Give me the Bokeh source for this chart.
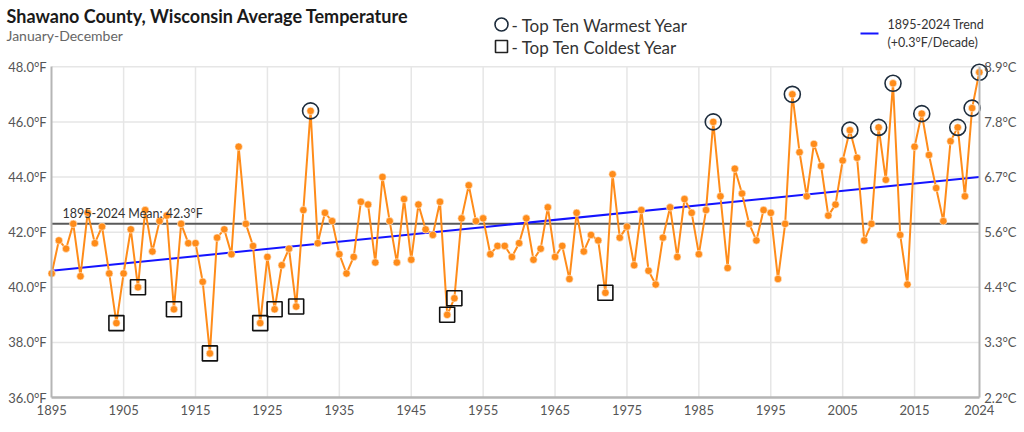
from bokeh.plotting import figure
from bokeh.models import Range1d, FixedTicker, Label, LinearAxis
from bokeh.embed import file_html
from bokeh.resources import INLINE
from bokeh.core.properties import value

# ---------------- data ----------------
years = list(range(1895, 2025))
temps = [
    40.5, 41.7, 41.4, 42.3, 40.4, 42.7, 41.6, 42.2, 40.5, 38.7,   # 1895-1904
    40.5, 42.1, 40.0, 42.8, 41.3, 42.4, 42.6, 39.2, 42.3, 41.6,   # 1905-1914
    41.6, 40.2, 37.6, 41.8, 42.1, 41.2, 45.1, 42.3, 41.5, 38.7,   # 1915-1924
    41.1, 39.2, 40.8, 41.4, 39.3, 42.8, 46.4, 41.6, 42.7, 42.4,   # 1925-1934
    41.2, 40.5, 41.1, 43.1, 43.0, 40.9, 44.0, 42.4, 40.9, 43.2,   # 1935-1944
    41.0, 43.0, 42.1, 41.9, 43.1, 39.0, 39.6, 42.5, 43.7, 42.4,   # 1945-1954
    42.5, 41.2, 41.5, 41.5, 41.1, 41.6, 42.5, 41.0, 41.4, 42.9,   # 1955-1964
    41.1, 41.5, 40.3, 42.7, 41.3, 41.9, 41.7, 39.8, 44.1, 41.8,   # 1965-1974
    42.2, 40.8, 42.8, 40.6, 40.1, 41.8, 42.9, 41.1, 43.2, 42.7,   # 1975-1984
    41.2, 42.8, 46.0, 43.3, 40.7, 44.3, 43.4, 42.3, 41.7, 42.8,   # 1985-1994
    42.7, 40.3, 42.3, 47.0, 44.9, 43.3, 45.2, 44.4, 42.6, 43.0,   # 1995-2004
    44.6, 45.7, 44.7, 41.7, 42.3, 45.8, 43.9, 47.4, 41.9, 40.1,   # 2005-2014
    45.1, 46.3, 44.8, 43.6, 42.4, 45.3, 45.8, 43.3, 46.5, 47.8,   # 2015-2024
]
warm_years = [1931, 1987, 1998, 2006, 2010, 2012, 2016, 2021, 2023, 2024]
cold_years = [1904, 1907, 1912, 1917, 1924, 1926, 1929, 1950, 1951, 1972]
mean_temp = 42.3
trend_years = [1895, 2024]
trend_vals = [40.6, 44.0]

x_ticks = [1895, 1905, 1915, 1925, 1935, 1945, 1955, 1965, 1975, 1985, 1995, 2005, 2015, 2024]
y_ticks = [36, 38, 40, 42, 44, 46, 48]
y_labels_f = ["36.0°F", "38.0°F", "40.0°F", "42.0°F", "44.0°F", "46.0°F", "48.0°F"]
y_labels_c = ["2.2°C", "3.3°C", "4.4°C", "5.6°C", "6.7°C", "7.8°C", "8.9°C"]

title_text = "Shawano County, Wisconsin Average Temperature"
subtitle_text = "January-December"
warm_label = "- Top Ten Warmest Year"
cold_label = "- Top Ten Coldest Year"
trend_label_1 = "1895-2024 Trend"
trend_label_2 = "(+0.3°F/Decade)"
mean_label = "1895-2024 Mean: 42.3°F"

# ---------------- style / layout ----------------
FONT = "Lato"
ORANGE = "#ff8c1a"
NAVY = "#1e2d3d"
BLUE = "#1414ff"
GRID = "#e6e6e6"
AXIS = "#b5b5b5"
TICK_TXT = "#555555"

W, H = 1024, 430
AX_B_PX = 397                      # where the lowest y tick sits (px from top)
AX_L_PX, AX_R_PX = 51.2, 978.8     # where the first / last year sit (px)
PX_PER_YEAR = (AX_R_PX - AX_L_PX) / (years[-1] - years[0])
X0 = years[0] - AX_L_PX / PX_PER_YEAR
X1 = years[-1] + (W - AX_R_PX) / PX_PER_YEAR
PX_PER_DEG = 27.56
Y0 = y_ticks[0] - (H - AX_B_PX) / PX_PER_DEG
Y1 = y_ticks[0] + AX_B_PX / PX_PER_DEG


def sx(px):
    """screen x (px) -> data x"""
    return X0 + px / PX_PER_YEAR


def sy(py):
    """screen y (px) -> data y"""
    return y_ticks[0] + (AX_B_PX - py) / PX_PER_DEG


temp_by_year = dict(zip(years, temps))
warm_temps = [temp_by_year[y] for y in warm_years]
cold_temps = [temp_by_year[y] for y in cold_years]

p = figure(width=W, height=H, x_range=Range1d(X0, X1), y_range=Range1d(Y0, Y1),
           output_backend="svg", toolbar_location=None,
           x_axis_location=None, y_axis_location=None, min_border=0)
p.outline_line_color = None
p.grid.visible = False

# ---------------- axes (placed inside the canvas at fixed data locations) ----------------
bottom_axis = LinearAxis(ticker=FixedTicker(ticks=x_ticks), fixed_location=y_ticks[0],
                         major_label_overrides={t: str(t) for t in x_ticks},
                         bounds=(years[0], years[-1]))
left_axis = LinearAxis(ticker=FixedTicker(ticks=y_ticks), fixed_location=years[0],
                       major_label_overrides=dict(zip(y_ticks, y_labels_f)),
                       bounds=(y_ticks[0], y_ticks[-1]))
right_axis = LinearAxis(ticker=FixedTicker(ticks=y_ticks), fixed_location=years[-1],
                        major_label_overrides=dict(zip(y_ticks, y_labels_c)),
                        bounds=(y_ticks[0], y_ticks[-1]))
p.add_layout(bottom_axis, "below")
p.add_layout(left_axis, "left")
p.add_layout(right_axis, "right")

for ax in [bottom_axis, left_axis, right_axis]:
    ax.major_label_text_font = FONT
    ax.major_label_text_font_size = "13px"
    ax.major_label_text_color = TICK_TXT
    ax.minor_tick_line_color = None
    ax.major_tick_out = 0
    ax.major_tick_in = 0
for ax in [left_axis, right_axis]:
    ax.axis_line_color = AXIS
    ax.axis_line_width = 2
    ax.major_label_standoff = 5
bottom_axis.axis_line_color = AXIS
bottom_axis.axis_line_width = 2.5
bottom_axis.major_label_standoff = 7

# ---------------- grid (limited to the chart area) ----------------
vx = x_ticks[1:-1]
p.segment(x0=vx, y0=[y_ticks[0]] * len(vx), x1=vx, y1=[y_ticks[-1]] * len(vx),
          line_color=GRID, line_width=1.5)
hy = y_ticks[1:]
p.segment(x0=[years[0]] * len(hy), y0=hy, x1=[years[-1]] * len(hy), y1=hy,
          line_color=GRID, line_width=1.5)

# ---------------- mean and trend ----------------
p.line(x=[years[0], years[-1]], y=[mean_temp, mean_temp], line_color="#5a5a5a", line_width=2)
p.add_layout(Label(x=years[0] + 1.5, y=mean_temp, y_offset=3, text=mean_label, text_font=FONT,
                   text_font_size="12.5px", text_color="#333333", text_baseline="bottom"))
p.line(trend_years, trend_vals, line_color=BLUE, line_width=2)

# ---------------- data ----------------
p.line(years, temps, line_color=ORANGE, line_width=2)
p.scatter(years, temps, size=7.5, fill_color=ORANGE, line_color="#fff3e6", line_width=0.6)
p.scatter(warm_years, warm_temps, marker="circle", size=16, fill_color=None,
          line_color=NAVY, line_width=1.6)
p.scatter(cold_years, cold_temps, marker="square", size=15, fill_color=None,
          line_color="#111111", line_width=1.6)

# ---------------- header: title, subtitle, legend ----------------
p.text(x=[sx(6)], y=[sy(15.5)], text=[title_text], text_font=value(FONT),
       text_font_style="bold", text_font_size="18px", text_color="#1a1a1a",
       text_baseline="middle")
p.text(x=[sx(6)], y=[sy(35)], text=[subtitle_text], text_font=value(FONT),
       text_font_size="14px", text_color="#666666", text_baseline="middle")

p.scatter(x=[sx(501)], y=[sy(24)], marker="circle", size=13, fill_color=None,
          line_color=NAVY, line_width=1.6)
p.scatter(x=[sx(501)], y=[sy(46)], marker="square", size=12, fill_color=None,
          line_color="#222222", line_width=1.6)
p.text(x=[sx(511)] * 2, y=[sy(25), sy(47)], text=[warm_label, cold_label], text_font=value(FONT),
       text_font_size="17px", text_baseline="middle", text_color="#333333")

p.line(x=[sx(860), sx(878)], y=[sy(33), sy(33)], line_color=BLUE, line_width=2)
p.text(x=[sx(887)] * 2, y=[sy(24), sy(42)], text=[trend_label_1, trend_label_2],
       text_font=value(FONT), text_font_size="12.5px", text_baseline="middle",
       text_color="#333333")

open("out.html", "w").write(file_html(p, INLINE))
